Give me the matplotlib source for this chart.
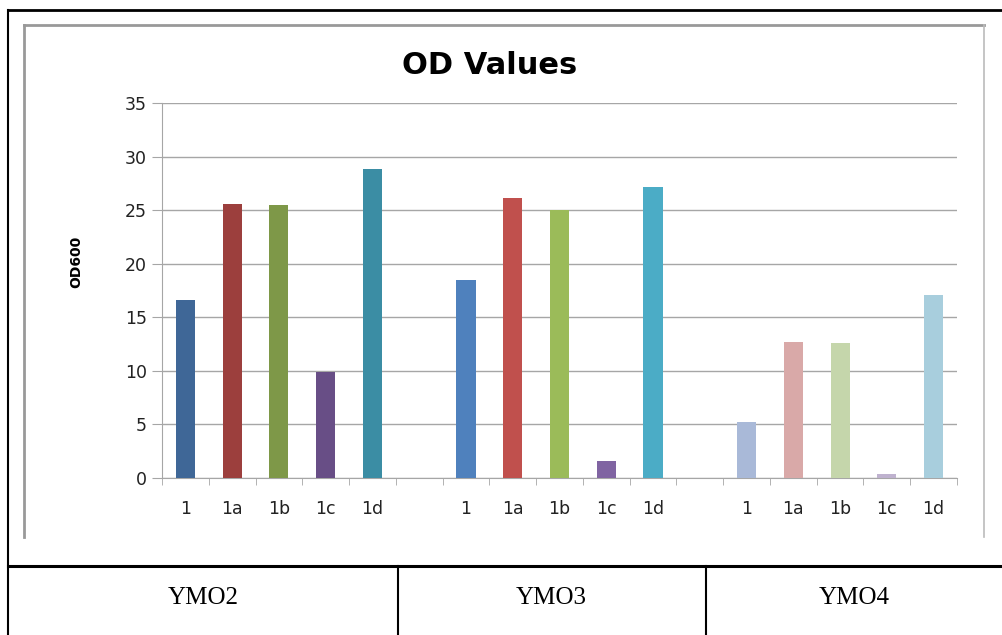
import matplotlib.pyplot as plt
from matplotlib.lines import Line2D
import numpy as np

# data
strains = ['YMO2', 'YMO3', 'YMO4']
samples = ['1', '1a', '1b', '1c', '1d']
ymo2 = [16.6, 25.6, 25.5, 9.9, 28.8]
ymo3 = [18.5, 26.1, 25.0, 1.6, 27.2]
ymo4 = [5.2, 12.7, 12.6, 0.35, 17.1]

colors_ymo2 = ['#3F6797', '#9C3F3D', '#7E9848', '#684E86', '#3B8DA4']
colors_ymo3 = ['#4F81BD', '#C0504D', '#9BBB59', '#8064A2', '#4BACC6']
colors_ymo4 = ['#A9B9D8', '#D9A9A8', '#C5D6AB', '#BFB2CF', '#A8CEDD']

W, H = 1003, 635
fig = plt.figure(figsize=(W / 100, H / 100), dpi=100)


def fx(px):
    return px / W


def fy(py):
    return 1 - py / H


# plot area in pixels: x 162..957, y 103..478
ax = fig.add_axes([fx(162), fy(478), fx(957) - fx(162), fy(103) - fy(478)])

# 17 slots: 5 bars, gap, 5 bars, gap, 5 bars
groups = [(ymo2, colors_ymo2), (ymo3, colors_ymo3), (ymo4, colors_ymo4)]
labels = []
for g, (vals, cols) in enumerate(groups):
    x = np.arange(len(samples)) + g * 6
    ax.bar(x, vals, width=0.41, color=cols, zorder=3)
    labels += samples + ([''] if g < 2 else [])

ax.set_xlim(-0.5, 16.5)
ax.set_ylim(0, 35)
ax.set_yticks(range(0, 36, 5))
ax.set_xticks(range(17))
ax.set_xticklabels(labels)
ax.set_xticks(np.arange(-0.5, 17, 1), minor=True)

ax.grid(axis='y', color='#A6A6A6', linewidth=1, zorder=0)
for s in ['top', 'right']:
    ax.spines[s].set_visible(False)
for s in ['left', 'bottom']:
    ax.spines[s].set_color('#A6A6A6')
ax.tick_params(axis='x', which='major', length=0, pad=22, labelsize=12.5, labelcolor='#222222')
ax.tick_params(axis='x', which='minor', length=5, color='#A6A6A6', direction='out')
ax.tick_params(axis='y', length=7, color='#A6A6A6', pad=4, labelsize=12.5, labelcolor='#222222')
for lab in ax.get_xticklabels():
    lab.set_va('center')

fig.text(fx(490), fy(66), 'OD Values', ha='center', va='center',
         fontsize=22, fontweight='bold')
fig.text(fx(76), fy(262), 'OD600', ha='center', va='center', rotation=90,
         fontsize=10, fontweight='bold')

# gray chart frame (bottom cut off by the table)
gray = '#999999'
fig.add_artist(Line2D([fx(24), fx(984)], [fy(25), fy(25)], color=gray, lw=2))
fig.add_artist(Line2D([fx(24), fx(24)], [fy(25), fy(537)], color=gray, lw=2))
fig.add_artist(Line2D([fx(984), fx(984)], [fy(25), fy(537)], color='#BBBBBB', lw=1.2))

# black outer table borders
fig.add_artist(Line2D([fx(8), fx(1003)], [fy(10), fy(10)], color='black', lw=2))
fig.add_artist(Line2D([fx(8), fx(8)], [fy(10), fy(635)], color='black', lw=1.5))
fig.add_artist(Line2D([fx(8), fx(1003)], [fy(566), fy(566)], color='black', lw=2.2))
for px in [398, 706]:
    fig.add_artist(Line2D([fx(px), fx(px)], [fy(566), fy(635)], color='black', lw=1.5))

for px, name in zip([203, 551, 854], strains):
    fig.text(fx(px), fy(598), name, ha='center', va='center',
             fontsize=18, family='Liberation Serif')

fig.savefig('out.png', dpi=100)
